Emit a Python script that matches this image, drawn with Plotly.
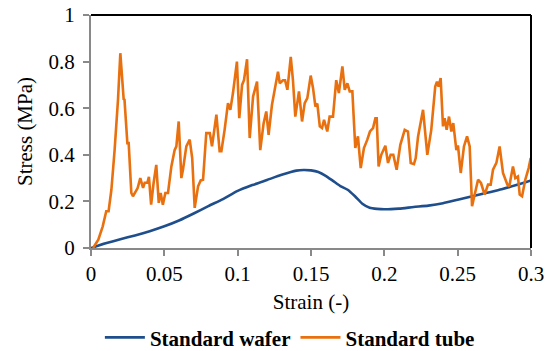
import plotly.graph_objects as go

# Standard wafer (smooth curve)
wafer_strain = [0, 0.01, 0.02, 0.03, 0.04, 0.05, 0.06, 0.07, 0.08, 0.09, 0.10, 0.11, 0.12,
                0.13, 0.14, 0.145, 0.15, 0.155, 0.16, 0.165, 0.17, 0.175, 0.18, 0.185, 0.19,
                0.195, 0.20, 0.21, 0.22, 0.23, 0.24, 0.25, 0.26, 0.27, 0.28, 0.29, 0.30]
wafer_stress = [0, 0.02, 0.038, 0.054, 0.072, 0.093, 0.118, 0.148, 0.18, 0.21, 0.245, 0.27, 0.292,
                0.314, 0.332, 0.335, 0.333, 0.326, 0.31, 0.288, 0.266, 0.25, 0.222, 0.19, 0.173,
                0.168, 0.166, 0.169, 0.176, 0.182, 0.192, 0.207, 0.222, 0.237, 0.252, 0.27, 0.29]

# Standard tube (noisy curve)
tube_strain = [0.0014, 0.005, 0.008, 0.0104, 0.012, 0.0139, 0.0161, 0.0184, 0.020, 0.0214, 0.0223,
               0.0228, 0.0248, 0.0257, 0.0275, 0.0286, 0.031, 0.0318, 0.0336, 0.0355, 0.0366, 0.0384,
               0.0395, 0.041, 0.0427, 0.0445, 0.0462, 0.0475, 0.049, 0.0507, 0.0525, 0.0548, 0.057,
               0.0582, 0.0598, 0.0616, 0.0627, 0.065, 0.0673, 0.069, 0.0707, 0.073, 0.0748, 0.0764,
               0.0786, 0.081, 0.0825, 0.0855, 0.0877, 0.0889, 0.0911, 0.0934, 0.095, 0.0968, 0.0995,
               0.1011, 0.103, 0.1043, 0.1064, 0.1082, 0.1105, 0.1132, 0.1154, 0.1177, 0.1195, 0.1211,
               0.1234, 0.1257, 0.1275, 0.1287, 0.1309, 0.1323, 0.1339, 0.1362, 0.1377, 0.1393, 0.1418,
               0.1439, 0.1457, 0.1475, 0.1498, 0.1514, 0.153, 0.1543, 0.156, 0.1575, 0.1589, 0.1611,
               0.1627, 0.165, 0.1672, 0.169, 0.1714, 0.173, 0.1748, 0.1764, 0.1782, 0.1802, 0.182,
               0.1839, 0.1861, 0.1884, 0.1902, 0.1923, 0.1939, 0.1948, 0.1961, 0.1979, 0.2007, 0.2025,
               0.2043, 0.2061, 0.2084, 0.2109, 0.2139, 0.2161, 0.218, 0.2202, 0.2214, 0.223, 0.2248,
               0.2264, 0.2293, 0.232, 0.2347, 0.2359, 0.237, 0.2384, 0.24, 0.2411, 0.2425, 0.2441,
               0.2457, 0.247, 0.2491, 0.2502, 0.2521, 0.2543, 0.2564, 0.2582, 0.2598, 0.2616, 0.2639,
               0.2659, 0.2684, 0.2707, 0.2725, 0.2741, 0.2764, 0.2786, 0.2809, 0.2839, 0.2852, 0.2877,
               0.2893, 0.2911, 0.2923, 0.2939, 0.2961, 0.2984, 0.2998, 0.3014]
tube_stress = [0, 0.036, 0.093, 0.158, 0.158, 0.25, 0.42, 0.636, 0.836, 0.736, 0.636,
               0.64, 0.45, 0.45, 0.236, 0.222, 0.25, 0.257, 0.30, 0.258, 0.28, 0.28,
               0.305, 0.186, 0.28, 0.357, 0.194, 0.236, 0.186, 0.236, 0.236, 0.35, 0.42,
               0.436, 0.543, 0.30, 0.336, 0.436, 0.465, 0.386, 0.172, 0.265, 0.29, 0.293,
               0.493, 0.493, 0.436, 0.572, 0.415, 0.415, 0.507, 0.622, 0.593, 0.665, 0.80,
               0.557, 0.70, 0.72, 0.81, 0.472, 0.65, 0.714, 0.42, 0.536, 0.586, 0.486,
               0.615, 0.686, 0.757, 0.707, 0.72, 0.72, 0.679, 0.82, 0.72, 0.564, 0.672,
               0.543, 0.622, 0.643, 0.74, 0.686, 0.607, 0.62, 0.522, 0.515, 0.55, 0.50,
               0.564, 0.564, 0.72, 0.665, 0.779, 0.679, 0.707, 0.672, 0.672, 0.429, 0.479,
               0.343, 0.429, 0.465, 0.50, 0.515, 0.557, 0.557, 0.35, 0.40, 0.439, 0.365,
               0.40, 0.40, 0.336, 0.443, 0.507, 0.50, 0.365, 0.36, 0.386, 0.479, 0.536,
               0.593, 0.40, 0.507, 0.693, 0.714, 0.693, 0.729, 0.522, 0.557, 0.507, 0.564,
               0.50, 0.536, 0.42, 0.44, 0.322, 0.436, 0.479, 0.436, 0.179, 0.229, 0.293,
               0.279, 0.229, 0.272, 0.272, 0.336, 0.365, 0.436, 0.322, 0.272, 0.265, 0.35,
               0.30, 0.307, 0.229, 0.222, 0.293, 0.343, 0.386, 0.357]

x_ticks = [0, 0.05, 0.1, 0.15, 0.2, 0.25, 0.3]
x_tick_labels = ["0", "0.05", "0.1", "0.15", "0.2", "0.25", "0.3"]
y_ticks = [0, 0.2, 0.4, 0.6, 0.8, 1]
y_tick_labels = ["0", "0.2", "0.4", "0.6", "0.8", "1"]

FONT = "Liberation Serif"
FS = 21
BLUE = "#1F4E8C"
ORANGE = "#E8700F"
GRAY = "#898989"

fig = go.Figure()
fig.add_trace(go.Scatter(x=wafer_strain, y=wafer_stress, mode="lines", name="Standard wafer",
                         line=dict(color=BLUE, width=2.6, shape="spline", smoothing=0.6)))
fig.add_trace(go.Scatter(x=tube_strain, y=tube_stress, mode="lines", name="Standard tube",
                         line=dict(color=ORANGE, width=2.6)))

# top and right black frame lines
fig.add_shape(type="line", xref="x domain", yref="y domain", x0=0, x1=1, y0=1, y1=1,
              line=dict(color="black", width=2))
fig.add_shape(type="line", xref="x domain", yref="y domain", x0=1, x1=1, y0=0, y1=1,
              line=dict(color="black", width=2))

fig.update_layout(
    width=546, height=351,
    margin=dict(l=91, r=15, t=15, b=103, autoexpand=False),
    paper_bgcolor="white", plot_bgcolor="white",
    font=dict(family=FONT, size=FS, color="black"),
    showlegend=True,
    legend=dict(orientation="h", x=0.452, xanchor="center", y=-0.385, yanchor="middle",
                font=dict(family=FONT, size=FS, color="black", weight="bold"),
                itemwidth=40, tracegroupgap=0),
    xaxis=dict(range=[0, 0.3], tickvals=x_ticks, ticktext=x_tick_labels,
               showgrid=False, zeroline=False, showline=True, linecolor=GRAY, linewidth=2,
               ticks="outside", ticklen=6, tickcolor=GRAY, tickwidth=1.5,
               tickfont=dict(family=FONT, size=FS),
               title=dict(text="Strain (-)", standoff=9, font=dict(family=FONT, size=FS))),
    yaxis=dict(range=[0, 1], tickvals=y_ticks, ticktext=y_tick_labels,
               showgrid=False, zeroline=False, showline=True, linecolor=GRAY, linewidth=2,
               ticks="outside", ticklen=6, tickcolor=GRAY, tickwidth=1.5,
               ticklabelstandoff=4,
               tickfont=dict(family=FONT, size=FS),
               title=dict(text="Stress (MPa)", standoff=10, font=dict(family=FONT, size=FS))),
)

fig.write_html("out.html")
